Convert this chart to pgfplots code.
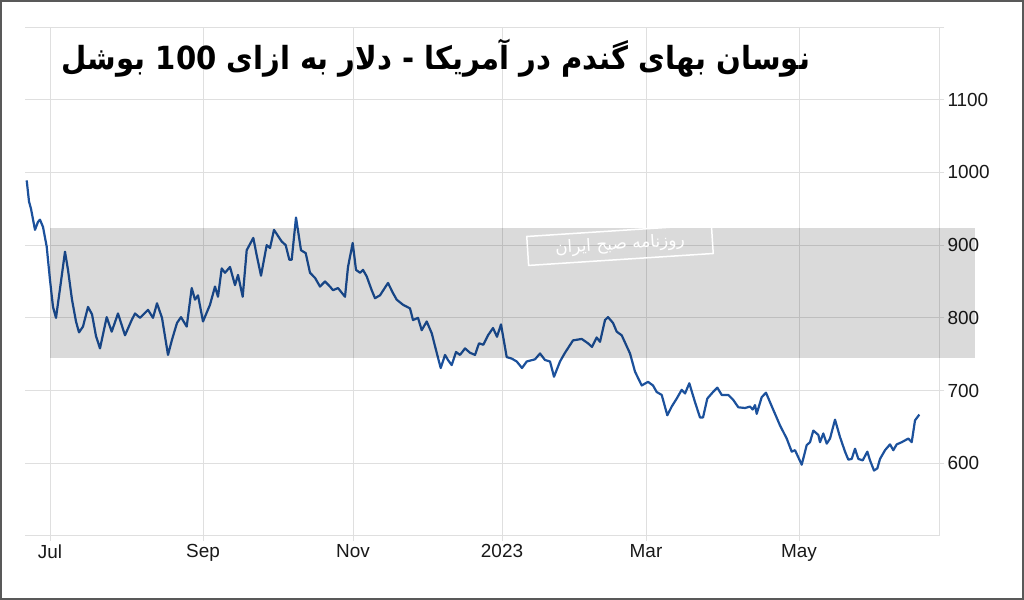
\documentclass[border=0pt]{standalone}
\usepackage{pgfplots}
\pgfplotsset{compat=1.18}
\usepackage{fontspec}
\setmainfont{Liberation Sans}
\newfontfamily\arabicfont[Script=Arabic]{DejaVu Sans}
\TeXXeTstate=1
\definecolor{linecol}{HTML}{1C519C}
\definecolor{gridcol}{HTML}{DFDFDF}
\definecolor{bandcol}{HTML}{DADADA}
\pgfplotstableread{
x y
26.7 989
29 960
31 950
35 921
38 932
40 935
43 925
46.7 898
50 852
53 815
56 800
60 840
65 891
68 866
72 825
76 795
79 780
83 788
88 815
92 805
96 775
100 758
106.7 801
111.7 781
118 806
125 776
131.7 797
135 806
140 800
148 811
153 800
157 820
162 800
168 749
172 770
177 793
181 801
186.7 788
191.7 841
195 825
198 831
203 795
210 818
215 843
218 829
221.7 868
225 862
230 870
235 845
238 859
242.7 829
246.7 893
253.3 910
256.7 886
261 858
266.7 900
270 896
274 921
281.7 905
285.7 900
289.3 880
291.7 880
296 938
301 893
305.7 889
310 862
315 855
320 843
325 850
330 843
333 838
338 841
345 829
348 870
352.7 903
356 866
360 862
363 866
366.7 857
371.7 838
375 827
380 831
388 848
393 834
396.7 825
403 818
410 813
413 797
418 800
421.7 783
426.7 795
431.7 779
436.7 752
440.7 731
445 749
448 742
451.7 735
456 753
460 749
465 758
470 752
475 749
479 765
483.3 763
488 776
493 786
497 774
501 791
506.7 746
511.7 744
516.7 740
522 731
526.7 740
535 743
540 751
545 742
550 740
554 719
560 740
565 752
573 769
581.7 771
588 765
592 760
596.7 773
600 767
605 797
608 801
613 793
616.7 781
621.7 776
630 751
635 726
641.7 707
648 712
653 707
656.7 698
661.7 694
667.3 666
671.7 678
676.7 689
681.7 701
685 696
689.3 710
695 684
700 663
703 663
707.3 689
713 698
717.3 704
721.7 694
728.3 694
733.3 687
738.3 677
745 676
750 678
752.7 674
755 680
756.7 668
761.7 691
766 697
770 684
775 668
780 652
786.7 634
791.7 616
795 618
801.7 598
806.7 625
810 629
813.3 645
818.3 639
820 629
823.3 641
826.7 627
830 634
835 660
840 636
845 616
848.3 605
851.7 606
855 620
858.3 606
862.7 604
867.3 616
870 604
874 590
877.3 593
880 606
885 618
890 626
893.3 618
896.7 626
901.7 629
908.3 634
911.7 629
915 659
919.3 667
}\wheat
\begin{document}
\begin{tikzpicture}[x=1bp,y=1bp]
\useasboundingbox (0,0) rectangle (1024,600);
\fill[white] (0,0) rectangle (1024,600);
\begin{axis}[at={(25bp,64bp)}, anchor=south west, scale only axis,
  width=914bp, height=509bp,
  xmin=25, xmax=939, ymin=500, ymax=1200,
  axis x line*=bottom, axis y line*=right,
  axis line style={draw=gridcol, line width=1bp, -},
  xtick={50,203,353,502,646,799}, xticklabels={Jul,Sep,Nov,2023,Mar,May},
  ytick={600,700,...,1100}, extra y ticks={1200}, extra y tick labels={},
  grid=major, grid style={draw=gridcol, line width=0.8bp},
  tick style={draw=gridcol, line width=0.8bp}, tick align=outside, major tick length=5bp,
  ticklabel style={font=\fontsize{19}{19}\selectfont, text=black!90},
  /pgf/number format/assume math mode=true, /pgf/number format/1000 sep={},
]
\addplot[linecol, line width=2.2bp, line join=round, no markers] table[x=x, y=y] {\wheat};
\end{axis}
\fill[bandcol, blend mode=multiply] (50,242) rectangle (975,372);
\node[rotate=3.7, draw=white, line width=1.5bp, text=white, inner sep=6bp,
  minimum width=185bp, font=\arabicfont\fontsize{17}{17}\selectfont] at (620,355)
  {\beginR روزنامه صبح ایران\endR};
\node[anchor=base, font=\arabicfont\bfseries\fontsize{32}{32}\selectfont] at (436,530)
  {\resizebox{748bp}{\height}{\beginR نوسان بهای گندم در آمریکا - دلار به ازای \beginL 100\endL{} بوشل\endR}};
\draw[black!65, line width=2bp] (1,1) rectangle (1023,599);
\end{tikzpicture}
\end{document}
